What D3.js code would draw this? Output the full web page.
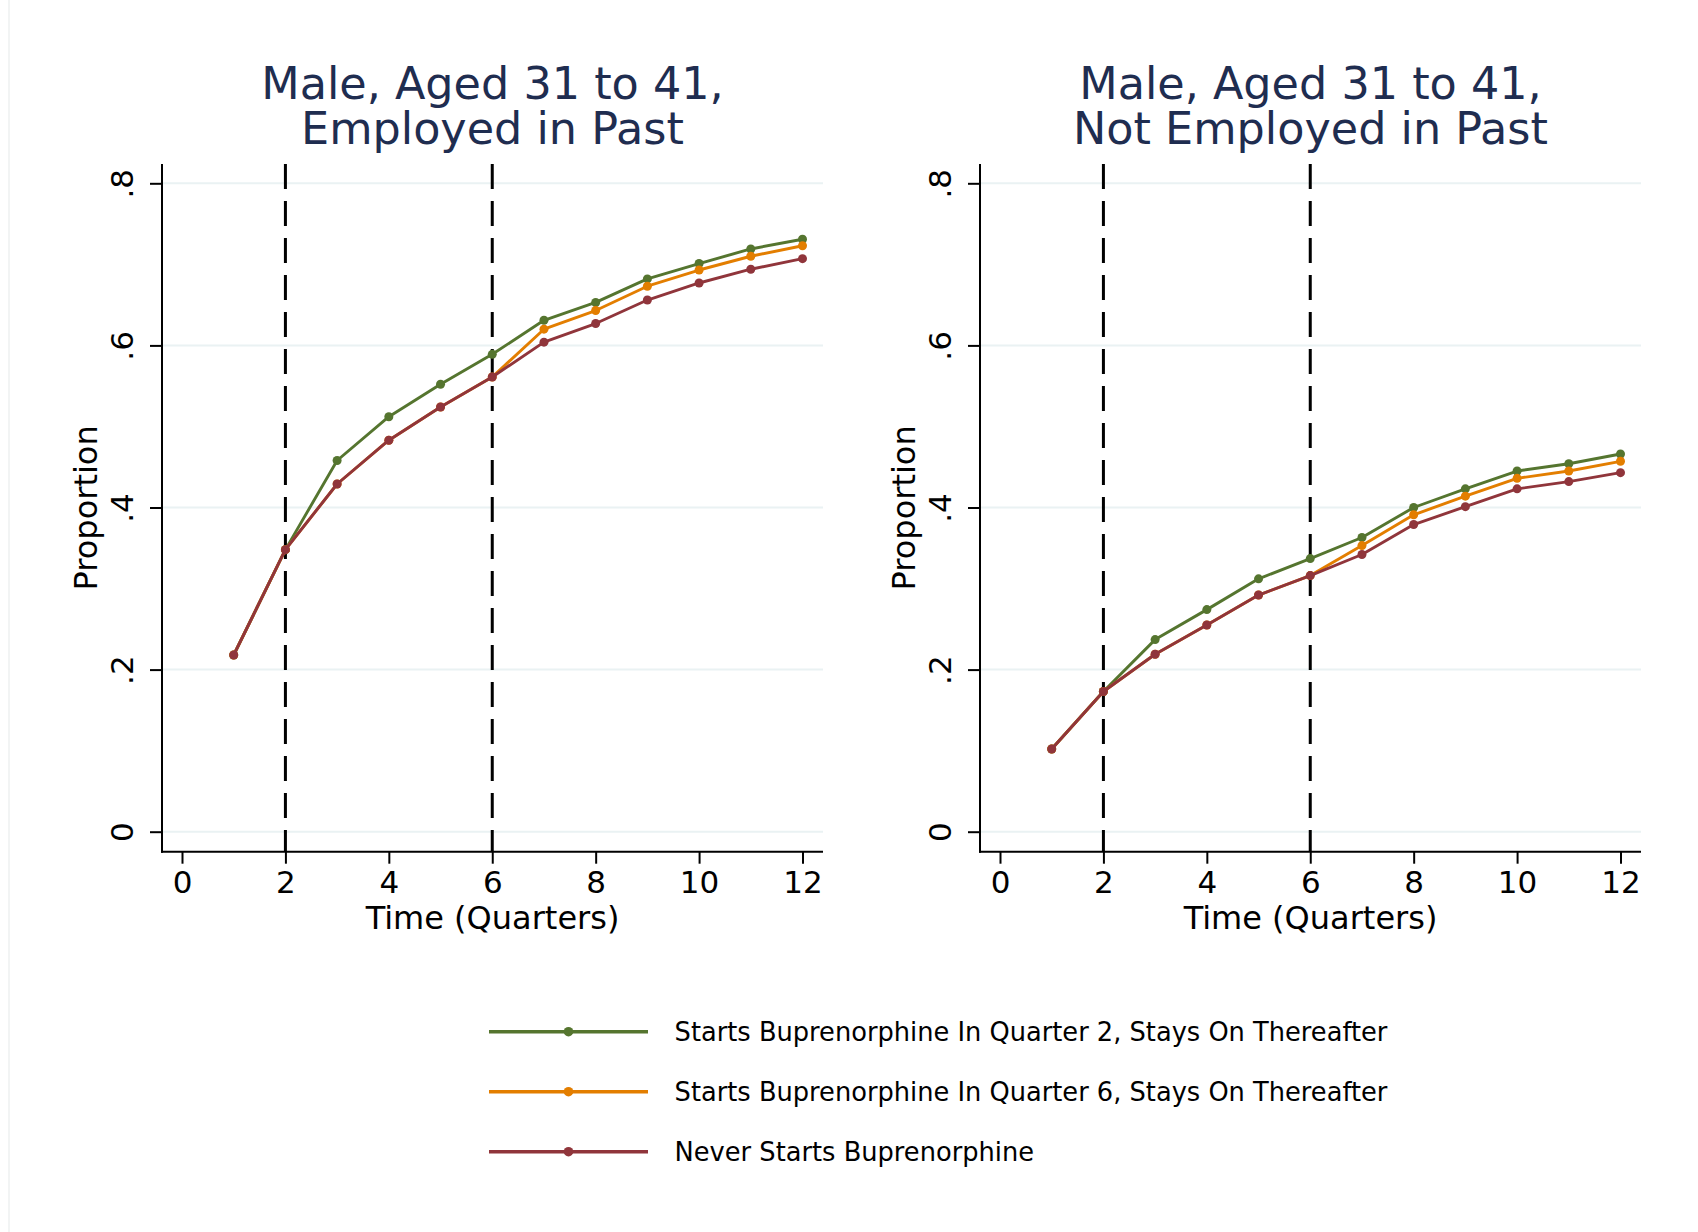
<!DOCTYPE html>
<html>
<head>
<meta charset="utf-8">
<script src="https://cdn.jsdelivr.net/npm/d3@7"></script>
<style>
  body { margin: 0; background: #fff; }
  svg { display: block; font-family: "DejaVu Sans", sans-serif; }
</style>
</head>
<body>
<svg id="chart" width="1698" height="1232"></svg>
<script>
// quarters on the x axis
const quarters = [1, 2, 3, 4, 5, 6, 7, 8, 9, 10, 11, 12];
const xTicks = [0, 2, 4, 6, 8, 10, 12];
const yTicks = [0, 0.2, 0.4, 0.6, 0.8];
const startQuarters = [2, 6];

const seriesNames = [
  "Starts Buprenorphine In Quarter 2, Stays On Thereafter",
  "Starts Buprenorphine In Quarter 6, Stays On Thereafter",
  "Never Starts Buprenorphine"
];
const seriesColors = ["#55752f", "#e37e00", "#90353b"];

// left panel: employed in past
const leftQ2 = [0.218, 0.348, 0.458, 0.512, 0.552, 0.589, 0.631, 0.653, 0.682, 0.701, 0.719, 0.731];
const leftQ6 = [0.218, 0.348, 0.429, 0.483, 0.524, 0.561, 0.620, 0.643, 0.673, 0.693, 0.710, 0.723];
const leftNever = [0.218, 0.348, 0.429, 0.483, 0.524, 0.561, 0.604, 0.627, 0.656, 0.677, 0.694, 0.707];

// right panel: not employed in past
const rightQ2 = [0.102, 0.173, 0.237, 0.274, 0.312, 0.337, 0.363, 0.400, 0.423, 0.445, 0.454, 0.466];
const rightQ6 = [0.102, 0.173, 0.219, 0.255, 0.292, 0.316, 0.353, 0.391, 0.414, 0.436, 0.445, 0.457];
const rightNever = [0.102, 0.173, 0.219, 0.255, 0.292, 0.316, 0.342, 0.379, 0.401, 0.423, 0.432, 0.443];

const panels = [
  { title: ["Male, Aged 31 to 41,", "Employed in Past"], series: [leftQ2, leftQ6, leftNever], left: 162 },
  { title: ["Male, Aged 31 to 41,", "Not Employed in Past"], series: [rightQ2, rightQ6, rightNever], left: 980 }
];

const svg = d3.select("#chart");
svg.append("rect").attr("width", 1698).attr("height", 1232).attr("fill", "#fff");
// faint outer border on the left
svg.append("line")
  .attr("x1", 9).attr("x2", 9).attr("y1", 0).attr("y2", 1232)
  .attr("stroke", "#eef1f1").attr("stroke-width", 1.5);

const plotTop = 164, plotBottom = 851.7, plotWidth = 661;
const fmt = d => d === 0 ? "0" : String(d).replace("0.", ".");

const drawPanel = (p) => {
  const g = svg.append("g");
  const x = d3.scaleLinear().domain([0, 12]).range([p.left + 20, p.left + 640.5]);
  const y = d3.scaleLinear().domain([0, 0.8]).range([831.7, 183.3]);
  const right = p.left + plotWidth;
  const cx = p.left + plotWidth / 2;

  // gridlines
  g.selectAll(".grid")
    .data(yTicks)
    .join("line")
    .attr("class", "grid")
    .attr("x1", p.left).attr("x2", right)
    .attr("y1", d => y(d)).attr("y2", d => y(d))
    .attr("stroke", "#eaf2f3").attr("stroke-width", 2);

  // dashed lines at treatment starts
  g.selectAll(".start")
    .data(startQuarters)
    .join("line")
    .attr("class", "start")
    .attr("x1", d => x(d)).attr("x2", d => x(d))
    .attr("y1", plotTop).attr("y2", plotBottom)
    .attr("stroke", "#000").attr("stroke-width", 3)
    .attr("stroke-dasharray", "25,12");

  // series lines and markers (red drawn last, on top)
  const line = d3.line().x((d, i) => x(quarters[i])).y(d => y(d));
  p.series.forEach((vals, si) => {
    g.append("path")
      .datum(vals)
      .attr("fill", "none")
      .attr("stroke", seriesColors[si])
      .attr("stroke-width", 2.9)
      .attr("stroke-linejoin", "round")
      .attr("d", line);
    g.selectAll(".pt" + si)
      .data(vals)
      .join("circle")
      .attr("class", "pt" + si)
      .attr("cx", (d, i) => x(quarters[i]))
      .attr("cy", d => y(d))
      .attr("r", 4.5)
      .attr("fill", seriesColors[si]);
  });

  // x axis
  const xAxis = g.append("g")
    .attr("transform", `translate(0,${plotBottom})`)
    .call(d3.axisBottom(x).tickValues(xTicks).tickSize(12).tickSizeOuter(0).tickPadding(7));
  xAxis.select(".domain").remove();
  xAxis.selectAll(".tick line").attr("stroke", "#000").attr("stroke-width", 2);
  xAxis.selectAll("text")
    .attr("font-size", 31).attr("font-family", "DejaVu Sans").attr("fill", "#000");

  // y axis, labels rotated as in the original
  const yAxis = g.append("g")
    .attr("transform", `translate(${p.left},0)`)
    .call(d3.axisLeft(y).tickValues(yTicks).tickFormat(fmt).tickSize(12).tickSizeOuter(0));
  yAxis.select(".domain").remove();
  yAxis.selectAll(".tick line").attr("stroke", "#000").attr("stroke-width", 2);
  yAxis.selectAll("text")
    .attr("x", null).attr("dy", null)
    .attr("text-anchor", "middle")
    .attr("transform", "translate(-29,0) rotate(-90)")
    .attr("font-size", 31).attr("font-family", "DejaVu Sans").attr("fill", "#000");

  // axis lines
  g.append("line")
    .attr("x1", p.left).attr("x2", p.left).attr("y1", plotTop).attr("y2", plotBottom + 1)
    .attr("stroke", "#000").attr("stroke-width", 2);
  g.append("line")
    .attr("x1", p.left - 1).attr("x2", right).attr("y1", plotBottom).attr("y2", plotBottom)
    .attr("stroke", "#000").attr("stroke-width", 2);

  // axis titles
  g.append("text")
    .attr("x", cx).attr("y", 929)
    .attr("text-anchor", "middle").attr("font-size", 32)
    .text("Time (Quarters)");
  g.append("text")
    .attr("transform", `translate(${p.left - 65},${(plotTop + plotBottom) / 2}) rotate(-90)`)
    .attr("text-anchor", "middle").attr("font-size", 32)
    .text("Proportion");

  // two-line title as one text block
  g.append("text")
    .attr("class", "title")
    .attr("text-anchor", "middle")
    .attr("font-size", 44.5)
    .attr("fill", "#1f2d50")
    .selectAll("tspan")
    .data(p.title)
    .join("tspan")
    .attr("x", cx)
    .attr("y", (d, i) => 99 + i * 45)
    .text(d => d);
};

panels.forEach(drawPanel);

// legend
const legend = svg.append("g");
const rowY = d3.scaleLinear().domain([0, 2]).range([1031.7, 1151.7]);
const rows = legend.selectAll(".row")
  .data(seriesNames)
  .join("g")
  .attr("class", "row")
  .attr("transform", (d, i) => `translate(0,${rowY(i)})`);
rows.append("line")
  .attr("x1", 489).attr("x2", 648)
  .attr("stroke", (d, i) => seriesColors[i]).attr("stroke-width", 3.6);
rows.append("circle")
  .attr("cx", 568.5).attr("r", 4.8)
  .attr("fill", (d, i) => seriesColors[i]);
rows.append("text")
  .attr("x", 674.6).attr("y", 9.3)
  .attr("font-size", 25.7)
  .text(d => d);
</script>
</body>
</html>
